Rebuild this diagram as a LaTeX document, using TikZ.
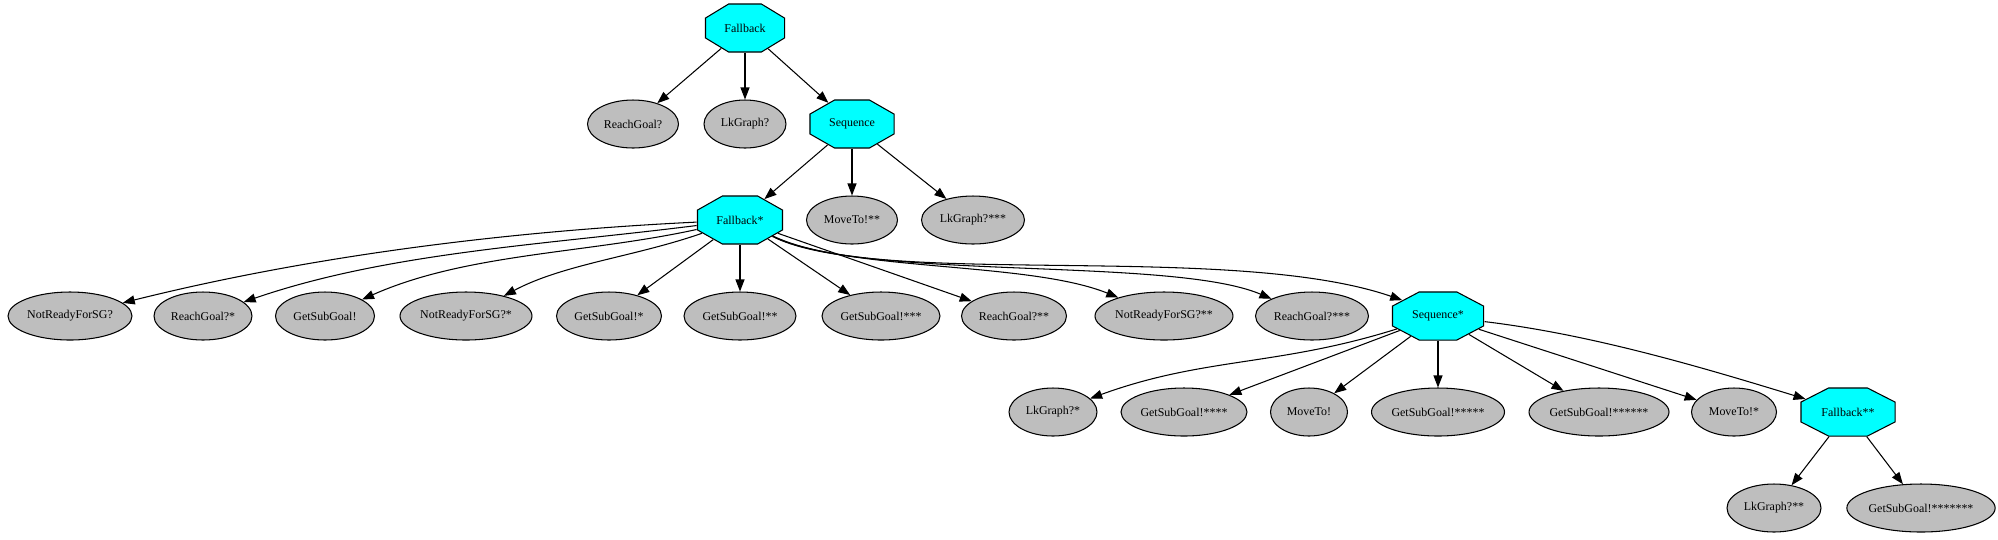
\documentclass[tikz,border=0pt]{standalone}
\usepackage{fontspec}
\setmainfont{Liberation Serif}
\usetikzlibrary{shapes.geometric,arrows.meta}
\definecolor{leafgray}{RGB}{190,190,190}
\definecolor{ctrlcyan}{RGB}{0,255,255}

\begin{document}
\begin{tikzpicture}[x=0.02cm,y=-0.02cm]
      \tikzstyle{every node}+=[inner sep=0pt,font=\fontsize{6.8}{8}\selectfont]
      \tikzstyle{leaf}=[ellipse,draw,line width=0.6pt,fill=leafgray,minimum height=0.96cm]
      \tikzstyle{ctrl}=[regular polygon,regular polygon sides=8,draw,line width=0.6pt,fill=ctrlcyan,minimum size=1.04cm,transform shape]
      \tikzstyle{edge}=[-{Triangle[length=0.24cm,width=0.18cm]},line width=0.6pt]
      \useasboundingbox (0,0) rectangle (1998,539);
      % control nodes
      \node[ctrl,xscale=1.646] (fb) at (745,28) {};
      \node (fbL) at (fb) {Fallback};
      \node[ctrl,xscale=1.75] (seq) at (852,124) {};
      \node (seqL) at (seq) {Sequence};
      \node[ctrl,xscale=1.77] (fbA) at (740,220) {};
      \node (fbAL) at (fbA) {Fallback*};
      \node[ctrl,xscale=1.896] (seqA) at (1438,316) {};
      \node (seqAL) at (seqA) {Sequence*};
      \node[ctrl,xscale=1.958] (fbB) at (1848,412) {};
      \node (fbBL) at (fbB) {Fallback**};
      % leaves
      \node[leaf,minimum width=1.82cm] (rg) at (633,124) {ReachGoal?};
      \node[leaf,minimum width=1.64cm] (lk) at (745,124) {LkGraph?};
      \node[leaf,minimum width=1.82cm] (mv2) at (852,220) {MoveTo!**};
      \node[leaf,minimum width=2.06cm] (lk3) at (973,220) {LkGraph?***};
      \node[leaf,minimum width=2.48cm] (nr0) at (70,316) {NotReadyForSG?};
      \node[leaf,minimum width=1.96cm] (rg1) at (203,316) {ReachGoal?*};
      \node[leaf,minimum width=1.98cm] (gs0) at (325,316) {GetSubGoal!};
      \node[leaf,minimum width=2.64cm] (nr1) at (466,316) {NotReadyForSG?*};
      \node[leaf,minimum width=2.10cm] (gs1) at (609,316) {GetSubGoal!*};
      \node[leaf,minimum width=2.24cm] (gs2) at (740,316) {GetSubGoal!**};
      \node[leaf,minimum width=2.36cm] (gs3) at (881,316) {GetSubGoal!***};
      \node[leaf,minimum width=2.10cm] (rg2) at (1014,316) {ReachGoal?**};
      \node[leaf,minimum width=2.76cm] (nr2) at (1164,316) {NotReadyForSG?**};
      \node[leaf,minimum width=2.26cm] (rg3) at (1312,316) {ReachGoal?***};
      \node[leaf,minimum width=1.76cm] (lk1) at (1053,412) {LkGraph?*};
      \node[leaf,minimum width=2.52cm] (gs4) at (1184,412) {GetSubGoal!****};
      \node[leaf,minimum width=1.54cm] (mv0) at (1309,412) {MoveTo!};
      \node[leaf,minimum width=2.66cm] (gs5) at (1438,412) {GetSubGoal!*****};
      \node[leaf,minimum width=2.80cm] (gs6) at (1599,412) {GetSubGoal!******};
      \node[leaf,minimum width=1.70cm] (mv1) at (1734,412) {MoveTo!*};
      \node[leaf,minimum width=1.88cm] (lk2) at (1774,508) {LkGraph?**};
      \node[leaf,minimum width=2.94cm] (gs7) at (1921,508) {GetSubGoal!*******};
      % edges
      \draw[edge] (fb) -- (rg);
      \draw[edge] (fb) -- (lk);
      \draw[edge] (fb) -- (seq);
      \draw[edge] (seq) -- (fbA);
      \draw[edge] (seq) -- (mv2);
      \draw[edge] (seq) -- (lk3);
      \draw[edge] (fbA) to[out=183,in=14,looseness=0.85] (nr0);
      \draw[edge] (fbA) to[out=188,in=19,looseness=0.85] (rg1);
      \draw[edge] (fbA) to[out=194,in=24,looseness=0.85] (gs0);
      \draw[edge] (fbA) to[out=203,in=28,looseness=0.85] (nr1);
      \draw[edge] (fbA) -- (gs1);
      \draw[edge] (fbA) -- (gs2);
      \draw[edge] (fbA) -- (gs3);
      \draw[edge] (fbA) -- (rg2);
      \draw[edge] (fbA) to[out=-30,in=158,out looseness=0.58,in looseness=0.72] (nr2);
      \draw[edge] (fbA) to[out=-30,in=157,out looseness=0.5,in looseness=0.56] (rg3);
      \draw[edge] (fbA) to[out=-30,in=161,out looseness=0.46,in looseness=0.74] (seqA.140);
      \draw[edge] (seqA) to[out=200,in=20] (lk1);
      \draw[edge] (seqA) -- (gs4);
      \draw[edge] (seqA) -- (mv0);
      \draw[edge] (seqA) -- (gs5);
      \draw[edge] (seqA) -- (gs6);
      \draw[edge] (seqA) -- (mv1);
      \draw[edge] (seqA) to[out=-8,in=160,looseness=0.84] (fbB);
      \draw[edge] (fbB) -- (lk2);
      \draw[edge] (fbB) -- (gs7);
    \end{tikzpicture}
\end{document}
